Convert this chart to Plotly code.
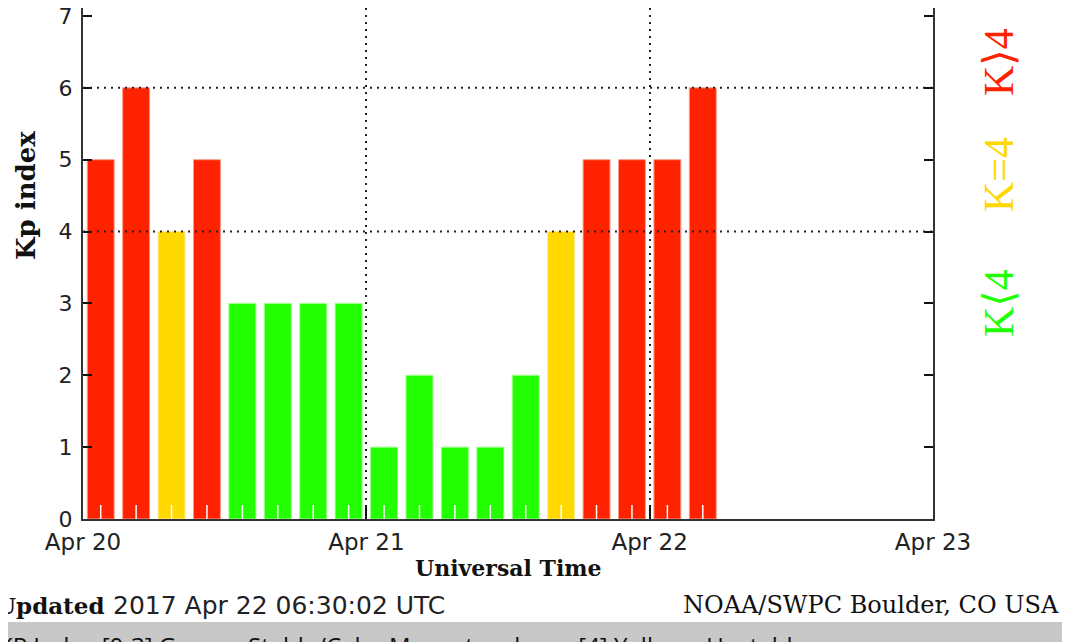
import plotly.graph_objects as go
import pandas as pd

# ---- data ----
start_time = "2017-04-20 01:30"
kp_values = [5, 6, 4, 5, 3, 3, 3, 3, 1, 2, 1, 1, 2, 4, 5, 5, 5, 6]
day_ticks = ["2017-04-20", "2017-04-21", "2017-04-22", "2017-04-23"]
grid_levels = [4, 6, 8]
legend_labels = ["K\u27e94", "K=4", "K\u27e84"]

RED, YELLOW, GREEN = "#ff2200", "#ffd800", "#22ff00"
RED_E, YELLOW_E, GREEN_E = "#ff9a88", "#ffec88", "#9aff88"

times = pd.date_range(start_time, periods=len(kp_values), freq="3h")

def color_for(k):
    return RED if k > 4 else (YELLOW if k == 4 else GREEN)

def edge_for(k):
    return RED_E if k > 4 else (YELLOW_E if k == 4 else GREEN_E)

# page body has an 8px margin; work in screen pixels and convert
OFF = 8
W, H = 1070, 642
L, R, T, B = 83 - OFF, 933 - OFF, 0, 519 - OFF
PW, PH = R - L, B - T
UNIT = 71.86  # px per Kp unit

def px_x(x):
    return (x - OFF - L) / PW

def px_y(y):
    return (B - (y - OFF)) / PH

fig = go.Figure()
fig.add_trace(go.Bar(
    x=times, y=kp_values,
    marker=dict(color=[color_for(k) for k in kp_values],
                line=dict(color=[edge_for(k) for k in kp_values], width=1)),
    hoverinfo="skip", showlegend=False,
))

# white inner tick marks at each bar
tx, ty = [], []
for t in times:
    tx += [t, t, None]
    ty += [0, 0.195, None]
fig.add_trace(go.Scatter(x=tx, y=ty, mode="lines",
                         line=dict(color="white", width=1.5),
                         hoverinfo="skip", showlegend=False))

for g in grid_levels:
    fig.add_hline(y=g, line=dict(color="#222222", width=2, dash="2px,5px"), layer="above")

xfont = dict(family="DejaVu Sans", size=23, color="#222222")
yfont = dict(family="DejaVu Sans", size=22, color="#222222")

fig.update_layout(
    width=W, height=H,
    margin=dict(l=L, r=W - R, t=T, b=H - B, pad=0, autoexpand=False),
    paper_bgcolor="white", plot_bgcolor="white",
    bargap=0.24,
    showlegend=False,
    xaxis=dict(
        type="date",
        range=[day_ticks[0], day_ticks[-1]],
        tickvals=day_ticks,
        tickformat="%b %d",
        ticks="inside", ticklen=14, tickwidth=2, tickcolor="#111111",
        showline=True, linewidth=2, linecolor="#333333", mirror=False,
        showgrid=True, gridcolor="#222222", gridwidth=2, griddash="2px,5px",
        zeroline=False,
        tickfont=xfont,
        ticklabelstandoff=1,
        ticklabeloverflow="allow",
    ),
    yaxis=dict(
        range=[0, PH / UNIT],
        dtick=1, tick0=0,
        ticks="inside", ticklen=9, tickwidth=2, tickcolor="#111111",
        showline=True, linewidth=2, linecolor="#333333", mirror="ticks",
        showgrid=False, zeroline=False,
        tickfont=yfont,
        ticklabelstandoff=4,
        ticklabeloverflow="allow",
    ),
)

annotations = [
    dict(text="<b>Kp index</b>", x=px_x(26), y=px_y(196), textangle=-90,
         font=dict(family="DejaVu Serif", size=26, color="#111111")),
    dict(text="<b>Universal Time</b>", x=px_x(508), y=px_y(568),
         font=dict(family="DejaVu Serif", size=22, color="#111111")),
    dict(text="<b>Updated</b>", x=px_x(-6), y=px_y(605), xanchor="left",
         font=dict(family="DejaVu Serif", size=23, color="#111111")),
    dict(text="2017 Apr 22 06:30:02 UTC", x=px_x(111), y=px_y(605), xanchor="left",
         font=dict(family="DejaVu Sans", size=25, color="#222222")),
    dict(text="NOAA/SWPC Boulder, CO USA", x=px_x(681), y=px_y(605), xanchor="left",
         font=dict(family="DejaVu Serif", size=24, color="#111111")),
    dict(text="KP Index [0-3] Green - Stable/Calm Magnetosphere. [4] Yellow - Unstable",
         x=px_x(-4), y=px_y(627), xanchor="left", yanchor="top",
         font=dict(family="Open Sans", size=24, color="#111111")),
]
legend_y = [62, 175, 303]
legend_colors = [RED, YELLOW, GREEN]
for lab, yy, c in zip(legend_labels, legend_y, legend_colors):
    annotations.append(dict(text=lab, x=px_x(999), y=px_y(yy), textangle=-90,
                            font=dict(family="Liberation Serif, DejaVu Serif", size=42, color=c)))

for a in annotations:
    a.update(xref="paper", yref="paper", showarrow=False)
    a.setdefault("xanchor", "center")
    a.setdefault("yanchor", "middle")
fig.update_layout(annotations=annotations)

fig.add_shape(type="rect", xref="paper", yref="paper",
              x0=px_x(0), x1=px_x(W + OFF), y0=px_y(H + 20), y1=px_y(622),
              fillcolor="#c8c8c8", line=dict(width=0), layer="below")

fig.write_html("out.html")
